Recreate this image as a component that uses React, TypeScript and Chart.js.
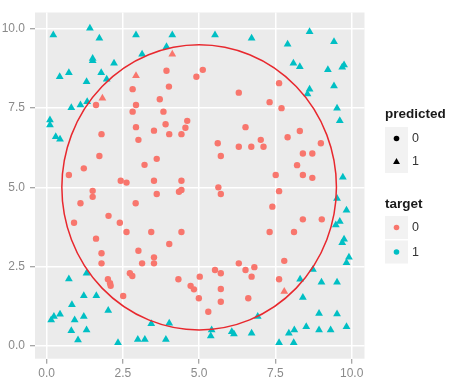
import React, { useEffect, useRef } from "react";
import { Chart, registerables } from "chart.js";

Chart.register(...registerables);

// ---- data ----
const X_TICKS = [0, 2.5, 5, 7.5, 10];
const Y_TICKS = [0, 2.5, 5, 7.5, 10];
const X_MIN = -0.38;
const X_MAX = 10.42;
const Y_MIN = -0.41;
const Y_MAX = 10.52;

const CIRCLE_CENTER = [5, 5];
const CIRCLE_RADIUS = 4.5;

const SHAPE_TITLE = "predicted";
const SHAPE_LABELS = ["0", "1"];
const COLOR_TITLE = "target";
const COLOR_LABELS = ["0", "1"];

const RED = "#F8766D";
const CYAN = "#00BFC4";

// target 0, predicted 0
const T0_P0: [number, number][] = [
  [3.93, 8.68], [4.91, 8.49], [4.01, 8.18], [2.82, 8.1], [3.71, 7.78], [2.93, 7.6], [1.62, 7.6],
  [2.82, 7.39], [3.83, 7.39], [4.61, 7.1], [3.9, 6.99], [4.55, 6.88], [2.93, 6.9], [3.52, 6.79],
  [4.02, 6.68], [4.42, 6.68], [1.8, 6.68], [3.01, 6.5], [1.73, 5.99], [3.61, 5.9], [3.21, 5.71],
  [1.22, 5.6], [0.73, 5.39], [2.43, 5.21], [2.62, 5.15], [3.52, 5.21], [4.42, 5.21],
  [5.12, 8.71], [6.3, 7.99], [7.62, 8.29], [7.31, 7.69], [7.7, 7.5], [6.52, 6.9], [8.3, 6.78],
  [7.9, 6.58], [7.02, 6.5], [8.99, 6.39], [5.61, 6.39], [6.3, 6.28], [6.71, 6.28], [7.11, 6.28],
  [5.71, 5.99], [8.4, 6.07], [8.71, 6.07], [8.21, 5.7], [7.51, 5.39], [8.4, 5.39], [8.71, 5.3],
  [4.42, 4.92], [4.34, 4.86], [3.61, 4.79], [1.51, 4.89], [1.51, 4.7], [1.11, 4.5], [2.92, 4.5],
  [2.03, 4.1], [2.4, 3.88], [0.9, 3.88], [2.62, 3.59], [3.43, 3.59], [4.42, 3.59], [1.62, 3.38],
  [4.02, 3.21], [3.01, 3.0], [1.8, 2.92], [1.8, 2.6], [3.52, 2.79], [3.52, 2.6], [3.13, 2.6],
  [2.73, 2.29], [2.81, 2.2], [2.01, 2.1], [2.08, 1.97], [2.1, 1.89], [4.32, 2.1], [4.72, 1.89],
  [4.83, 1.78], [2.51, 1.57], [4.99, 1.5],
  [5.63, 5.0], [5.71, 4.79], [7.62, 4.88], [7.4, 4.39], [8.4, 3.99], [9.02, 3.99], [7.31, 3.59],
  [8.11, 3.59], [6.3, 2.6], [6.81, 2.48], [6.52, 2.39], [7.79, 2.68], [5.52, 2.39], [5.71, 2.29],
  [6.72, 2.18], [5.02, 2.18], [7.62, 2.1], [5.71, 1.79], [5.71, 1.39], [6.61, 1.5], [5.3, 1.07],
];

// target 0, predicted 1
const T0_P1: [number, number][] = [
  [2.93, 8.52], [4.12, 9.2], [1.83, 7.81], [7.79, 1.71],
];

// target 1, predicted 1
const T1_P1: [number, number][] = [
  [0.22, 9.81], [1.42, 10.02], [1.73, 9.71], [2.93, 9.81], [4.12, 9.81], [3.93, 9.44], [3.13, 9.2],
  [1.51, 9.07], [1.51, 9.0], [2.21, 8.92], [0.73, 8.62], [0.43, 8.49], [1.79, 8.62], [1.97, 8.41],
  [1.31, 8.33], [1.33, 7.7], [1.11, 7.6], [0.81, 7.51], [0.11, 7.13], [0.11, 6.97], [0.3, 6.6],
  [0.44, 6.52],
  [5.52, 9.81], [6.72, 9.71], [8.62, 9.91], [7.9, 9.52], [9.42, 9.6], [8.09, 8.92], [8.3, 8.81],
  [9.22, 8.71], [9.75, 8.86], [9.69, 8.79], [9.42, 8.2], [8.62, 8.1], [8.55, 7.95], [9.52, 7.5],
  [9.61, 7.1], [9.71, 5.32],
  [1.31, 2.29], [0.73, 2.11], [1.22, 1.58], [1.63, 1.58], [0.83, 1.29], [2.02, 1.11], [0.44, 0.99],
  [0.24, 0.92], [0.15, 0.81], [1.22, 0.92], [0.92, 0.81], [0.81, 0.47], [1.31, 0.5], [1.03, 0.18],
  [3.43, 0.69], [4.02, 0.71], [2.34, 0.09], [2.99, 0.2], [3.22, 0.2], [3.91, 0.2],
  [9.52, 4.65], [9.83, 4.28], [9.61, 3.92], [9.48, 3.81], [9.75, 3.36], [9.69, 3.25], [9.91, 2.79],
  [9.83, 2.62], [8.73, 2.41], [8.31, 2.1], [9.01, 2.0], [9.52, 2.0], [8.4, 1.52], [8.93, 1.02],
  [9.52, 1.0], [6.92, 0.92], [8.51, 0.6], [8.93, 0.5], [9.31, 0.5], [9.83, 0.6], [7.94, 0.39],
  [8.12, 0.5], [7.62, 0.09], [8.1, 0.09], [6.72, 0.39], [6.07, 0.44], [6.14, 0.37], [5.41, 0.5],
  [5.38, 0.31],
];

const toPts = (arr: [number, number][]) => arr.map(([x, y]) => ({ x, y }));

const FONT = '"Liberation Sans", Arial, sans-serif';

function drawTriangle(ctx: CanvasRenderingContext2D, cx: number, cy: number, r: number) {
  ctx.beginPath();
  for (let i = 0; i < 3; i++) {
    const a = -Math.PI / 2 + (i * 2 * Math.PI) / 3;
    const px = cx + r * Math.cos(a);
    const py = cy + r * Math.sin(a);
    if (i === 0) ctx.moveTo(px, py);
    else ctx.lineTo(px, py);
  }
  ctx.closePath();
  ctx.fill();
}

const panelPlugin = {
  id: "ggpanel",
  beforeDraw(chart: any) {
    const { ctx, chartArea: a } = chart;
    ctx.save();
    ctx.fillStyle = "#EBEBEB";
    ctx.fillRect(a.left, a.top, a.right - a.left, a.bottom - a.top);
    ctx.restore();
  },
  afterDatasetsDraw(chart: any) {
    const { ctx } = chart;
    const xs = chart.scales.x;
    const ys = chart.scales.y;
    const cx = xs.getPixelForValue(CIRCLE_CENTER[0]);
    const cy = ys.getPixelForValue(CIRCLE_CENTER[1]);
    const rx = xs.getPixelForValue(CIRCLE_CENTER[0] + CIRCLE_RADIUS) - cx;
    const ry = cy - ys.getPixelForValue(CIRCLE_CENTER[1] + CIRCLE_RADIUS);
    ctx.save();
    ctx.strokeStyle = "#E8282E";
    ctx.lineWidth = 1.5;
    ctx.beginPath();
    ctx.ellipse(cx, cy, rx, ry, 0, 0, Math.PI * 2);
    ctx.stroke();
    ctx.restore();
  },
  afterDraw(chart: any) {
    const { ctx } = chart;
    const left = 385;
    const keyLeft = 385;
    const key = 23;
    const labelX = 412;
    ctx.save();
    ctx.textBaseline = "middle";
    ctx.textAlign = "left";

    // predicted (shape)
    ctx.font = `bold 13.5px ${FONT}`;
    ctx.fillStyle = "#1A1A1A";
    ctx.fillText(SHAPE_TITLE, left, 114);
    const shapeCenters = [138.5, 161.5];
    shapeCenters.forEach((cy, i) => {
      ctx.fillStyle = "#F2F2F2";
      ctx.fillRect(keyLeft, cy - key / 2, key, key);
      ctx.fillStyle = "#000";
      if (i === 0) {
        ctx.beginPath();
        ctx.arc(keyLeft + key / 2, cy, 2.8, 0, Math.PI * 2);
        ctx.fill();
      } else {
        drawTriangle(ctx, keyLeft + key / 2, cy + 0.5, 4);
      }
      ctx.font = `12.5px ${FONT}`;
      ctx.fillStyle = "#333";
      ctx.fillText(SHAPE_LABELS[i], labelX, cy + 0.5);
    });

    // target (colour)
    ctx.font = `bold 13.5px ${FONT}`;
    ctx.fillStyle = "#1A1A1A";
    ctx.fillText(COLOR_TITLE, left, 204);
    const colorCenters = [227.5, 252];
    colorCenters.forEach((cy, i) => {
      ctx.fillStyle = "#F2F2F2";
      ctx.fillRect(keyLeft, cy - key / 2, key, key);
      ctx.fillStyle = i === 0 ? RED : CYAN;
      ctx.beginPath();
      ctx.arc(keyLeft + key / 2, cy, 2.8, 0, Math.PI * 2);
      ctx.fill();
      ctx.font = `12.5px ${FONT}`;
      ctx.fillStyle = "#333";
      ctx.fillText(COLOR_LABELS[i], labelX, cy + 0.5);
    });
    ctx.restore();
  },
};

export default function App() {
  const ref = useRef<HTMLCanvasElement | null>(null);

  useEffect(() => {
    document.body.style.margin = "0";
    const canvas = ref.current;
    if (!canvas) return;
    const axisCommon = (ticks: number[], min: number, max: number, pad: number) => ({
      type: "linear" as const,
      min,
      max,
      afterBuildTicks: (scale: any) => {
        scale.ticks = ticks.map((v) => ({ value: v }));
      },
      border: { display: false },
      grid: {
        color: "#FFFFFF",
        lineWidth: 1.5,
        drawTicks: true,
        tickLength: 5,
        tickColor: "#8A8A8A",
        tickWidth: 1,
      },
      ticks: {
        color: "#8A8A8A",
        font: { family: FONT, size: 12 },
        padding: pad,
        autoSkip: false,
        maxRotation: 0,
        callback: (v: any) => Number(v).toFixed(1),
      },
    });

    const chart = new Chart(canvas, {
      type: "scatter",
      data: {
        datasets: [
          {
            label: "t0p0",
            data: toPts(T0_P0),
            pointStyle: "circle",
            pointRadius: 3.2,
            backgroundColor: RED,
            borderWidth: 0,
          },
          {
            label: "t0p1",
            data: toPts(T0_P1),
            pointStyle: "triangle",
            pointRadius: 4.5,
            backgroundColor: RED,
            borderWidth: 0,
          },
          {
            label: "t1p1",
            data: toPts(T1_P1),
            pointStyle: "triangle",
            pointRadius: 4.5,
            backgroundColor: CYAN,
            borderWidth: 0,
          },
        ],
      },
      options: {
        animation: false,
        responsive: false,
        layout: { padding: { top: 12.5, right: 101.5, left: 0, bottom: 0 } },
        plugins: {
          legend: { display: false },
          tooltip: { enabled: false },
        },
        scales: {
          x: {
            ...axisCommon(X_TICKS, X_MIN, X_MAX, 3),
            position: "bottom",
            afterFit: (scale: any) => {
              scale.height = 24.3;
            },
          },
          y: {
            ...axisCommon(Y_TICKS, Y_MIN, Y_MAX, 5),
            position: "left",
            afterFit: (scale: any) => {
              scale.width = 35;
            },
          },
        },
      },
      plugins: [panelPlugin],
    });
    return () => chart.destroy();
  }, []);

  return (
    <div style={{ width: 466, height: 383, background: "#fff" }}>
      <canvas ref={ref} width={466} height={383} style={{ display: "block" }} />
    </div>
  );
}
